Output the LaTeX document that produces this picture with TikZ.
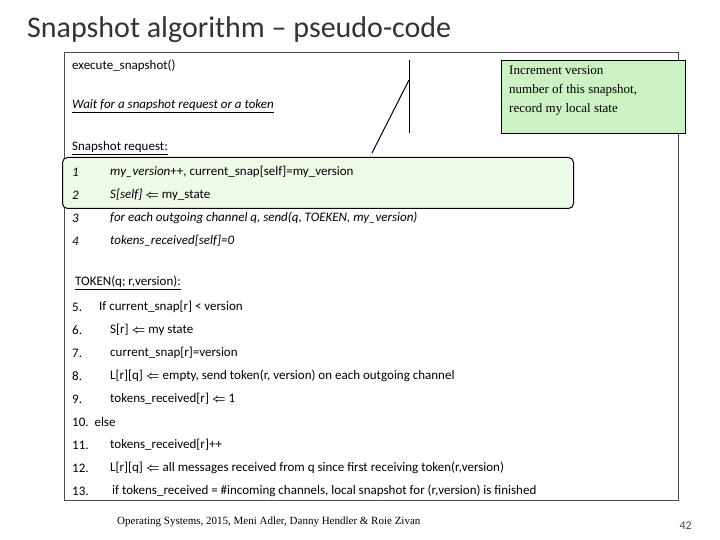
\documentclass[tikz,border=0pt]{standalone}
\usepackage{amsmath}
\usepackage{fontspec}
\setmainfont{Carlito}
\newfontfamily\tnr{Liberation Serif}
\definecolor{hl}{HTML}{EEFAE8}
\definecolor{cg}{HTML}{CCF2C4}
\begin{document}
\begin{tikzpicture}[x=1pt,y=-1pt,
  ln/.style={anchor=west,inner sep=0pt,font=\fontsize{13}{15}\selectfont},
  nr/.style={anchor=west,inner sep=0pt,font=\fontsize{13}{15}\selectfont}]
\useasboundingbox (0,0) rectangle (720,540);
\node[anchor=west,inner sep=0pt,font=\fontsize{30}{34}\selectfont,text=black!80] (title) at (27,30) {Snapshot algorithm – pseudo-code};
\draw[black!70] (64,52) rectangle (678,500);
\node[draw=black,line width=1pt,rounded corners=5pt,fill=hl,minimum width=511,minimum height=51,anchor=north west,inner sep=0pt] (hl) at (62,157) {};
\draw[line width=1pt] (409,60) coordinate (v1) -- (409,133) coordinate (v2);
\draw[line width=1pt] (409,80) coordinate (d1) -- (372,153) coordinate (d2);
\node[draw=black,line width=1.2pt,fill=cg,anchor=north west,minimum width=184,minimum height=73,inner sep=0pt] (call) at (501,60) {};
\node[anchor=north west,align=left,inner sep=0pt,font=\tnr\fontsize{13}{19}\selectfont] (ct) at (509,66) {Increment version\\number of this snapshot,\\record my local state};
\node[ln] (a) at (72,66) {execute\_snapshot()};
\node[ln] (b) at (72,106) {\underline{\itshape Wait for a snapshot request or a token}};
\node[ln] (c) at (72,148) {\underline{Snapshot request:}};
\node[nr] (n1) at (72,172) {\itshape 1}; \node[ln] (l1) at (110,172) {\itshape my\_version\upshape++, current\_snap[self]=my\_version};
\node[nr] (n2) at (72,195) {\itshape 2}; \node[ln] (l2) at (110,195) {\itshape S[self] \upshape$\boldsymbol{\Leftarrow}$ my\_state};
\node[nr] (n3) at (72,218) {\itshape 3}; \node[ln] (l3) at (110,218) {\itshape for each outgoing channel q, send(q, TOEKEN, my\_version)};
\node[nr] (n4) at (72,241) {\itshape 4}; \node[ln] (l4) at (110,241) {\itshape tokens\_received[self]=0};
\node[ln] (t) at (75,283) {\underline{TOKEN(q; r,version):}};
\node[nr] (n5) at (72,307) {5.}; \node[ln] (l5) at (99,307) {If current\_snap[r] < version};
\node[nr] (n6) at (72,330) {6.}; \node[ln] (l6) at (110,330) {S[r] $\boldsymbol{\Leftarrow}$ my state};
\node[nr] (n7) at (72,353) {7.}; \node[ln] (l7) at (110,353) {current\_snap[r]=version};
\node[nr] (n8) at (72,376) {8.}; \node[ln] (l8) at (110,376) {L[r][q] $\boldsymbol{\Leftarrow}$ empty, send token(r, version) on each outgoing channel};
\node[nr] (n9) at (72,399) {9.}; \node[ln] (l9) at (110,399) {tokens\_received[r] $\boldsymbol{\Leftarrow}$ 1};
\node[nr] (n10) at (72,422) {10.\ \ else};
\node[nr] (n11) at (72,445) {11.}; \node[ln] (l11) at (110,445) {tokens\_received[r]++};
\node[nr] (n12) at (72,468) {12.}; \node[ln] (l12) at (110,468) {L[r][q] $\boldsymbol{\Leftarrow}$ all messages received from q since first receiving token(r,version)};
\node[nr] (n13) at (72,491) {13.}; \node[ln] (l13) at (112,491) {if tokens\_received = \#incoming channels, local snapshot for (r,version) is finished};
\node[anchor=west,inner sep=0pt,font=\tnr\fontsize{11}{13}\selectfont] (foot) at (117,522) {Operating Systems, 2015, Meni Adler, Danny Hendler \& Roie Zivan};
\node[anchor=east,inner sep=0pt,font=\fontsize{12}{14}\selectfont,text=black!70] (pg) at (692,526) {42};
\end{tikzpicture}
\end{document}
